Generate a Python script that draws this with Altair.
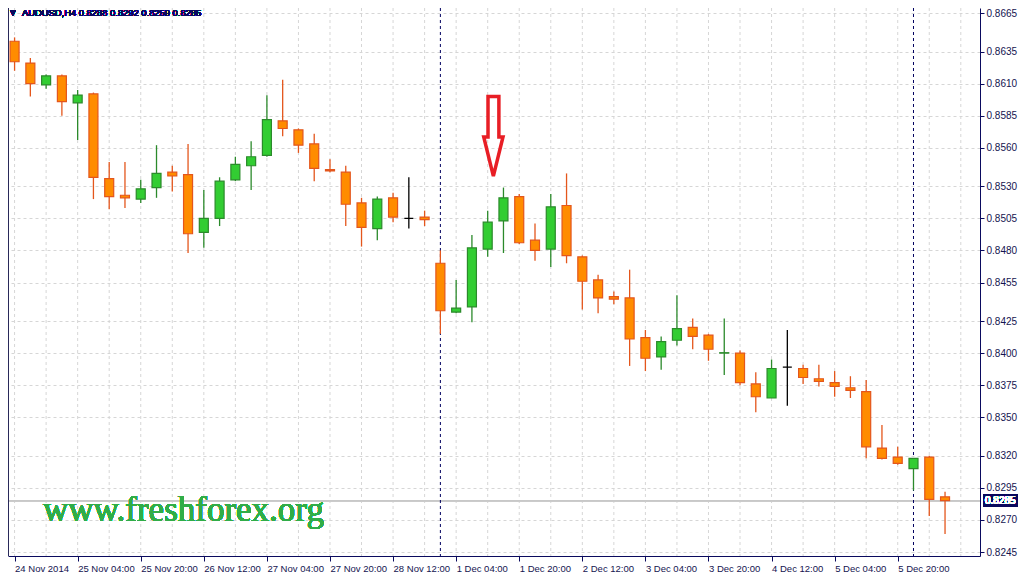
import altair as alt
import pandas as pd

# ---- data ----
symbol = "AUDUSD,H4"
opens = [0.8643, 0.8626, 0.8609, 0.8616, 0.8595, 0.8602, 0.8536, 0.8523, 0.8520, 0.8529,
         0.8541, 0.8539, 0.8494, 0.8505, 0.8535, 0.8546, 0.8554, 0.8581, 0.8574, 0.8563,
         0.8543, 0.8541, 0.8517, 0.8497, 0.8521, 0.8505, 0.8506, 0.8470, 0.8432, 0.8436,
         0.8481, 0.8503, 0.8522, 0.8488, 0.8481, 0.8515, 0.8475, 0.8457, 0.8444, 0.8443,
         0.8412, 0.8397, 0.8410, 0.8420, 0.8414, 0.84000, 0.8400, 0.8376, 0.8365, 0.8389,
         0.8388, 0.8380, 0.8377, 0.8373, 0.8370, 0.8326, 0.8319, 0.8310, 0.8319, 0.8288]
highs = [0.8646, 0.8630, 0.8617, 0.8617, 0.8605, 0.8603, 0.8549, 0.8549, 0.8535, 0.8562,
         0.8546, 0.8563, 0.8527, 0.8537, 0.8553, 0.8565, 0.8601, 0.8613, 0.8575, 0.8571,
         0.8551, 0.8546, 0.8521, 0.8522, 0.8525, 0.8537, 0.8511, 0.8480, 0.8457, 0.8492,
         0.8511, 0.8529, 0.8524, 0.8501, 0.8524, 0.8540, 0.8476, 0.8461, 0.8448, 0.8465,
         0.8418, 0.8413, 0.8445, 0.8427, 0.8415, 0.8427, 0.8402, 0.8385, 0.8395, 0.8418,
         0.8391, 0.8391, 0.8386, 0.8382, 0.8379, 0.8344, 0.8327, 0.8318, 0.8320, 0.8292]
lows = [0.8620, 0.8600, 0.8606, 0.8585, 0.8566, 0.8520, 0.8512, 0.8513, 0.8517, 0.8521,
        0.8526, 0.8478, 0.8482, 0.8499, 0.8534, 0.8527, 0.8553, 0.8569, 0.8556, 0.8534,
        0.8541, 0.8499, 0.8483, 0.8488, 0.8502, 0.8497, 0.8499, 0.8415, 0.8431, 0.8424,
        0.8475, 0.8478, 0.8485, 0.8472, 0.8467, 0.8470, 0.8434, 0.8431, 0.8438, 0.8390,
        0.8386, 0.8387, 0.8406, 0.8403, 0.8394, 0.8383, 0.8375, 0.8354, 0.8365, 0.8359,
        0.8376, 0.8374, 0.8366, 0.8365, 0.8318, 0.8317, 0.8313, 0.8293, 0.8273, 0.8259]
closes = [0.8627, 0.8610, 0.8616, 0.8596, 0.8601, 0.8537, 0.8522, 0.8521, 0.8528, 0.8540,
          0.8538, 0.8493, 0.8505, 0.8534, 0.8547, 0.8553, 0.8582, 0.8575, 0.8562, 0.8544,
          0.8542, 0.8516, 0.8498, 0.8520, 0.8506, 0.8505, 0.8504, 0.8433, 0.8435, 0.8482,
          0.8502, 0.8521, 0.8486, 0.8480, 0.8514, 0.8476, 0.8456, 0.8443, 0.8442, 0.8411,
          0.8396, 0.8409, 0.8419, 0.8413, 0.8403, 0.84003, 0.8377, 0.8366, 0.8388, 0.8389,
          0.8381, 0.8378, 0.8374, 0.8371, 0.8327, 0.8318, 0.8314, 0.8318, 0.8286, 0.8285]
x_label_texts = ["24 Nov 2014", "25 Nov 04:00", "25 Nov 20:00", "26 Nov 12:00", "27 Nov 04:00",
                 "27 Nov 20:00", "28 Nov 12:00", "1 Dec 04:00", "1 Dec 20:00", "2 Dec 12:00",
                 "3 Dec 04:00", "3 Dec 20:00", "4 Dec 12:00", "5 Dec 04:00", "5 Dec 20:00"]
y_ticks = [0.8665, 0.8635, 0.8610, 0.8585, 0.8560, 0.8530, 0.8505, 0.8480, 0.8455,
           0.8425, 0.8400, 0.8375, 0.8350, 0.8320, 0.8295, 0.8270, 0.8245]
separators = [27, 57]          # first bar of each new week
last_bid = 0.8285
arrow_x = [30.02, 30.71, 30.71, 30.97, 30.36, 29.75, 30.02, 30.02]
arrow_y = [0.86000, 0.86000, 0.85684, 0.85684, 0.85379, 0.85684, 0.85684, 0.86000]
watermark = "www.freshforex.org"

# ---- tables ----
n = len(opens)
df = pd.DataFrame({"i": list(range(n)), "open": opens, "high": highs,
                   "low": lows, "close": closes})
df["dir"] = ["up" if c > o else ("down" if c < o else "flat") for o, c in zip(opens, closes)]
grid_df = pd.DataFrame({"g": list(range(0, 62, 2))})
sep_df = pd.DataFrame({"s": separators})
arrow_df = pd.DataFrame({"ax": arrow_x, "ay": arrow_y, "k": list(range(len(arrow_x)))})

W, H = 972, 548
RP = 39
NAVY = "#0a0a5e"
TXT = "#141450"
GRID = "#d6d6d6"

x_scale = alt.Scale(domain=[-0.1, 60.9], nice=False, zero=False)
y_scale = alt.Scale(domain=[0.82419, 0.86689], nice=False, zero=False)
fill_scale = alt.Scale(domain=["up", "down", "flat"], range=["#32cd32", "#ff8c00", "#000000"])
stroke_scale = alt.Scale(domain=["up", "down", "flat"], range=["#2b8a2b", "#e4561c", "#000000"])

label_expr = "[" + ",".join("'%s'" % s for s in x_label_texts) + "][round(datum.value/4)]"

x_axis = alt.Axis(values=list(range(0, 57, 4)), labelExpr=label_expr, labelAlign="left",
                  labelFlush=False, labelOverlap=False, grid=False,
                  tickSize=5, tickColor=NAVY, domainColor=NAVY, labelColor=TXT,
                  labelFontSize=9.5, labelFont="Liberation Sans", labelPadding=2,
                  labelBaseline="top", title=None)
y_axis = alt.Axis(orient="right", values=y_ticks, format=".4f", grid=True,
                  gridDash=[3, 3], gridColor=GRID, domainColor=NAVY, tickColor=NAVY,
                  tickSize=4, labelColor=TXT, labelFontSize=10, labelFont="Liberation Sans",
                  labelPadding=2, labelOverlap=False, title=None)

def X(field):
    return alt.X(field, scale=x_scale, axis=x_axis, title=None)

def Y(field):
    return alt.Y(field, scale=y_scale, axis=y_axis, title=None)

vgrid = alt.Chart(grid_df).mark_rule(strokeDash=[3, 3], color=GRID, strokeWidth=1).encode(
    x=X("g:Q"))

bid_line = alt.Chart(df).mark_rule(color="#c8c8c8", strokeWidth=1).encode(
    y=alt.YDatum(last_bid, scale=y_scale, axis=y_axis))

seps = alt.Chart(sep_df).mark_rule(strokeDash=[3, 3], color="#000060", strokeWidth=1).encode(
    x=X("s:Q"))

wicks = alt.Chart(df).mark_rule(strokeWidth=1.3, clip=True).encode(
    x=X("i:Q"),
    y=Y("low:Q"),
    y2="high:Q",
    stroke=alt.Stroke("dir:N", scale=stroke_scale, legend=None))

bodies = alt.Chart(df).mark_bar(size=9, strokeWidth=1.2, clip=True).encode(
    x=X("i:Q"),
    y=Y("open:Q"),
    y2="close:Q",
    fill=alt.Fill("dir:N", scale=fill_scale, legend=None),
    stroke=alt.Stroke("dir:N", scale=stroke_scale, legend=None))

arrow = alt.Chart(arrow_df).mark_line(color="#e81e25", strokeWidth=3.5, strokeJoin="miter",
                                      strokeCap="square").encode(
    x=X("ax:Q"),
    y=Y("ay:Q"),
    order="k:Q")

wm = alt.Chart(df).mark_text(font="Liberation Serif", fontSize=35, color="#30ad48",
                             align="left", baseline="alphabetic").encode(
    x=alt.value(35), y=alt.value(513), text=alt.value(watermark))

header_txt = "%s  %.4f %.4f %.4f %.4f" % (symbol, opens[-1], highs[-1], lows[-1], closes[-1])
tri = alt.Chart(df).mark_text(font="DejaVu Sans", fontSize=7, color=NAVY,
                              align="center", baseline="middle").encode(
    x=alt.value(5), y=alt.value(5), text=alt.value("▼"))
header = alt.Chart(df).mark_text(font="Liberation Sans", fontSize=9.4, color=NAVY,
                                 align="left", baseline="middle").encode(
    x=alt.value(14), y=alt.value(5), text=alt.value(header_txt))

bid_box = alt.Chart(df).mark_rect(color=NAVY, yOffset=-6, y2Offset=6).encode(
    x=alt.value(W + 3), x2=alt.value(W + 38),
    y=alt.YDatum(last_bid, scale=y_scale, axis=y_axis), y2=alt.datum(last_bid))
bid_text = alt.Chart(df).mark_text(font="Liberation Sans", fontSize=10, color="white",
                                   align="left", baseline="middle").encode(
    x=alt.value(W + 5), y=alt.YDatum(last_bid, scale=y_scale, axis=y_axis),
    text=alt.value("%.4f" % last_bid))

left_border = alt.Chart(df).mark_rule(color="#2a2a5a", strokeWidth=1.5).encode(
    x=alt.value(0), y=alt.value(0), y2=alt.value(H))

chart = alt.layer(vgrid, bid_line, seps, wicks, bodies, arrow, wm, tri, header,
                  bid_box, bid_text, left_border).properties(
    width=W, height=H,
    autosize=alt.AutoSizeParams(type="none"),
    padding={"left": 0, "top": 0, "right": RP, "bottom": 17},
    background="white",
).configure_view(stroke=None)

chart.save("out.html", embed_options={"renderer": "svg", "actions": False})
